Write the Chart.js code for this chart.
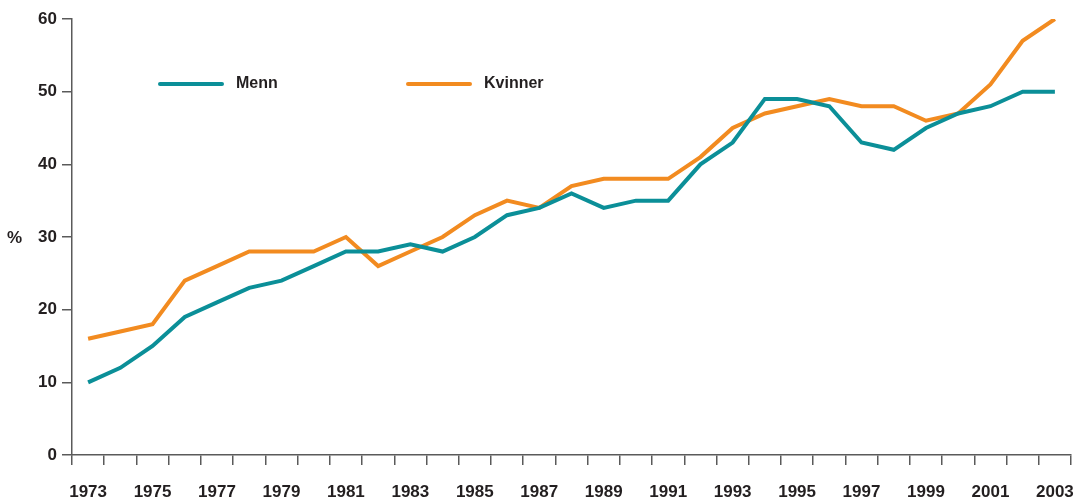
<!DOCTYPE html>
<html>
<head>
<meta charset="utf-8">
<script src="https://cdn.jsdelivr.net/npm/chart.js@4"></script>
<style>
  body { margin: 0; background: #fff; }
  #wrap { width: 1082px; height: 501px; position: relative; }
</style>
</head>
<body>
<div id="wrap"><canvas id="andel"></canvas></div>
<script>
const years = ['1973','1974','1975','1976','1977','1978','1979','1980','1981','1982','1983','1984','1985','1986','1987','1988','1989','1990','1991','1992','1993','1994','1995','1996','1997','1998','1999','2000','2001','2002','2003'];
const menn = [10,12,15,19,21,23,24,26,28,28,29,28,30,33,34,36,34,35,35,40,43,49,49,48,43,42,45,47,48,50,50];
const kvinner = [16,17,18,24,26,28,28,28,30,26,28,30,33,35,34,37,38,38,38,41,45,47,48,49,48,48,46,47,51,57,60];
const yTicks = [0,10,20,30,40,50,60];

const tekst = '#231f20';
const akse = '#5a5a5a';
const font = { family: "'Liberation Sans', Arial, sans-serif", size: 17, weight: 'bold' };

// egen forklaring inne i plottet + "%" til venstre
const forklaring = {
  id: 'forklaring',
  afterDraw(chart) {
    const ctx = chart.ctx;
    const y = chart.scales.y;
    const pos = [160, 408];
    ctx.save();
    ctx.font = 'bold 16px "Liberation Sans", Arial, sans-serif';
    ctx.textBaseline = 'middle';
    chart.data.datasets.forEach((ds, i) => {
      const x0 = pos[i];
      const yy = 84;
      ctx.strokeStyle = ds.borderColor;
      ctx.lineWidth = 4;
      ctx.lineCap = 'round';
      ctx.beginPath();
      ctx.moveTo(x0, yy);
      ctx.lineTo(x0 + 62, yy);
      ctx.stroke();
      ctx.fillStyle = tekst;
      ctx.fillText(ds.label, x0 + 76, yy);
    });
    ctx.font = 'bold 17px "Liberation Sans", Arial, sans-serif';
    ctx.fillText('%', 7, y.getPixelForValue(30) + 1);
    ctx.restore();
  }
};

new Chart(document.getElementById('andel'), {
  type: 'line',
  data: {
    labels: years,
    datasets: [
      { label: 'Menn', data: menn, borderColor: '#0b8f98', borderWidth: 4, pointRadius: 0, tension: 0 },
      { label: 'Kvinner', data: kvinner, borderColor: '#f28b20', borderWidth: 4, pointRadius: 0, tension: 0 }
    ]
  },
  options: {
    responsive: true,
    maintainAspectRatio: false,
    animation: false,
    layout: { padding: { top: 19, right: 11, left: 0, bottom: 0 } },
    plugins: { legend: { display: false }, tooltip: { enabled: false } },
    scales: {
      x: {
        offset: true,
        grid: { offset: true, drawOnChartArea: false, tickLength: 10, color: akse, lineWidth: 1.5 },
        border: { color: akse, width: 1.5 },
        ticks: {
          autoSkip: false, maxRotation: 0, color: tekst, font: font, padding: 17,
          callback: (v, i) => i % 2 === 0 ? years[i] : ''
        },
        afterFit: s => { s.height = 46; s.paddingLeft = 0; s.paddingRight = 0; }
      },
      y: {
        min: 0, max: 60,
        afterBuildTicks: s => { s.ticks = yTicks.map(v => ({ value: v })); },
        grid: { drawOnChartArea: false, tickLength: 10, color: akse, lineWidth: 1.5 },
        border: { color: akse, width: 1.5 },
        ticks: { color: tekst, font: font, padding: 5 },
        afterFit: s => { s.width = 72; }
      }
    }
  },
  plugins: [forklaring]
});
</script>
</body>
</html>
